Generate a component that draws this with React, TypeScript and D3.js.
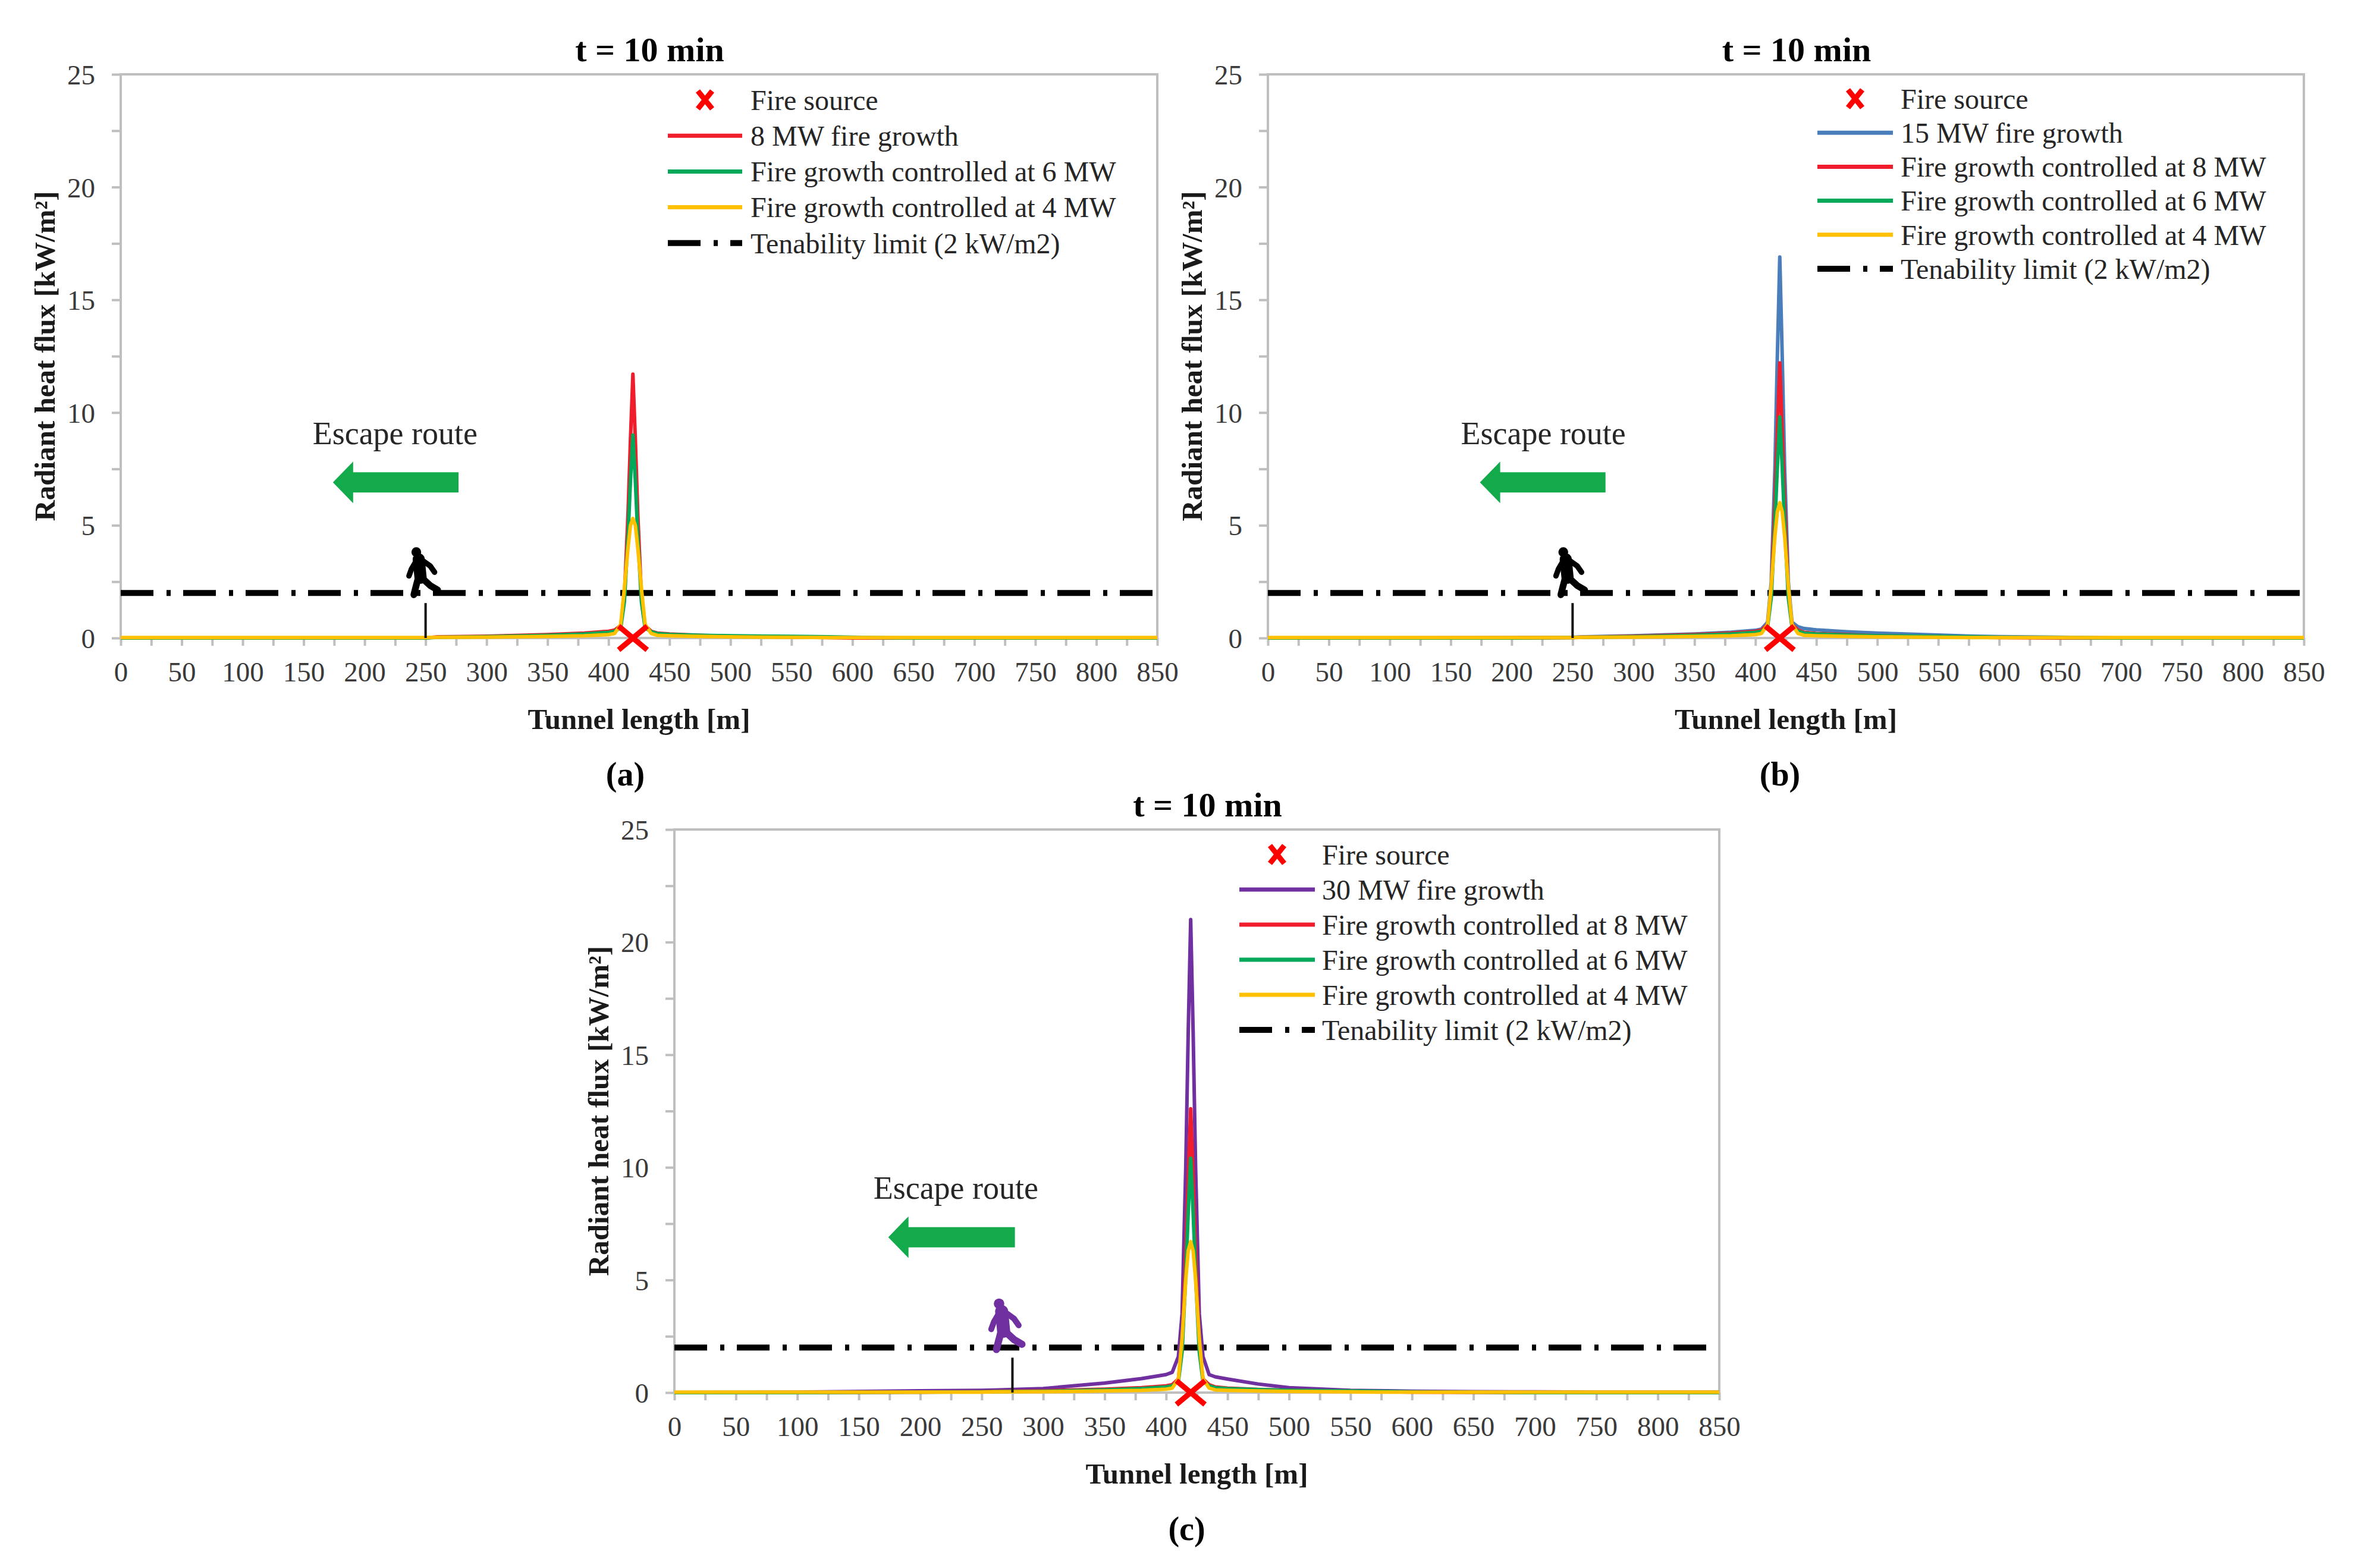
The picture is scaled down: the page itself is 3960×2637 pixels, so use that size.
import { useEffect, useRef } from "react";
import * as d3 from "d3";

// tunnel positions (m) where the heat flux was sampled, shared by every series
const tunnelX = [0, 100, 200, 250, 260, 300, 350, 380, 400, 405, 410, 413, 416, 418, 420, 422, 424, 427, 430, 435, 440, 450, 475, 500, 550, 580, 600, 650, 700, 750, 800, 850];

// (a) 8 MW design fire
const fire8A = [0, 0, 0, 0, 0.05, 0.08, 0.15, 0.22, 0.3, 0.35, 0.55, 1.8, 5.5, 8.8, 11.7, 8.8, 5.5, 1.8, 0.55, 0.3, 0.22, 0.18, 0.12, 0.08, 0.04, 0.02, 0, 0, 0, 0, 0, 0];
const ctrl6A = [0, 0, 0, 0, 0.03, 0.06, 0.12, 0.18, 0.25, 0.3, 0.45, 1.6, 4.5, 7, 9.0, 7, 4.5, 1.6, 0.45, 0.28, 0.2, 0.16, 0.12, 0.1, 0.07, 0.05, 0.03, 0, 0, 0, 0, 0];
const ctrl4A = [0.02, 0.02, 0.02, 0.02, 0.03, 0.04, 0.07, 0.1, 0.15, 0.2, 0.6, 2.2, 4.0, 5.0, 5.3, 5.0, 4.0, 2.2, 0.6, 0.2, 0.12, 0.1, 0.07, 0.05, 0.03, 0.02, 0.02, 0.02, 0.02, 0.02, 0.02, 0.02];

// (b) 15 MW design fire
const fire15B = [0, 0, 0.02, 0.03, 0.05, 0.1, 0.18, 0.26, 0.34, 0.4, 0.7, 2.5, 7.5, 12.5, 16.9, 12.5, 7.5, 2.5, 0.7, 0.5, 0.42, 0.36, 0.28, 0.22, 0.13, 0.08, 0.06, 0.03, 0, 0, 0, 0];
const ctrl8B = [0, 0, 0, 0.02, 0.04, 0.08, 0.15, 0.22, 0.3, 0.35, 0.6, 2.0, 6.0, 9.2, 12.2, 9.2, 6.0, 2.0, 0.6, 0.35, 0.25, 0.2, 0.15, 0.1, 0.06, 0.03, 0.02, 0, 0, 0, 0, 0];
const ctrl6B = [0, 0, 0, 0.02, 0.03, 0.06, 0.12, 0.18, 0.25, 0.3, 0.5, 1.8, 5.0, 7.6, 9.8, 7.6, 5.0, 1.8, 0.5, 0.3, 0.22, 0.18, 0.13, 0.1, 0.07, 0.05, 0.03, 0.02, 0, 0, 0, 0];
const ctrl4B = [0.02, 0.02, 0.02, 0.02, 0.03, 0.04, 0.07, 0.1, 0.15, 0.2, 0.6, 2.3, 4.5, 5.6, 6.0, 5.6, 4.5, 2.3, 0.6, 0.2, 0.12, 0.1, 0.07, 0.05, 0.03, 0.02, 0.02, 0.02, 0.02, 0.02, 0.02, 0.02];

// (c) 30 MW design fire
const fire30C = [0, 0.02, 0.08, 0.1, 0.11, 0.18, 0.42, 0.62, 0.8, 0.9, 1.6, 3.5, 10, 16, 21, 16, 10, 3.5, 1.6, 0.8, 0.7, 0.6, 0.38, 0.22, 0.1, 0.08, 0.06, 0.04, 0.03, 0.02, 0.02, 0.02];
const ctrl8C = [0, 0, 0.02, 0.04, 0.05, 0.08, 0.15, 0.22, 0.3, 0.35, 0.6, 2.0, 6.2, 9.5, 12.6, 9.5, 6.2, 2.0, 0.6, 0.35, 0.25, 0.2, 0.14, 0.1, 0.06, 0.03, 0.02, 0.01, 0, 0, 0, 0];
const ctrl6C = [0, 0, 0.02, 0.03, 0.04, 0.06, 0.12, 0.18, 0.25, 0.3, 0.5, 1.8, 5.2, 8.0, 10.4, 8.0, 5.2, 1.8, 0.5, 0.3, 0.22, 0.18, 0.13, 0.1, 0.07, 0.05, 0.03, 0.02, 0, 0, 0, 0];
const ctrl4C = [0.02, 0.02, 0.02, 0.02, 0.03, 0.04, 0.07, 0.1, 0.15, 0.2, 0.6, 2.4, 5.0, 6.3, 6.7, 6.3, 5.0, 2.4, 0.6, 0.2, 0.12, 0.1, 0.07, 0.05, 0.03, 0.02, 0.02, 0.02, 0.02, 0.02, 0.02, 0.02];

const xTicks = [0, 25, 50, 75, 100, 125, 150, 175, 200, 225, 250, 275, 300, 325, 350, 375, 400, 425, 450, 475, 500, 525, 550, 575, 600, 625, 650, 675, 700, 725, 750, 775, 800, 825, 850];
const xTickLabels = [0, 50, 100, 150, 200, 250, 300, 350, 400, 450, 500, 550, 600, 650, 700, 750, 800, 850];
const yTicks = [0, 2.5, 5, 7.5, 10, 12.5, 15, 17.5, 20, 22.5, 25];
const yTickLabels = [0, 5, 10, 15, 20, 25];

const tenabilityLimit = 2;
const fireSourceX = 420;
const escapeArrowX = [174, 277]; // tip, tail (m)
const escapeArrowY = 6.9;
const escapeLabelY = 8.6;

const RED = "#f01e2c";
const GREEN = "#00a859";
const YELLOW = "#ffc000";
const BLUE = "#4a7ebb";
const PURPLE = "#7030a0";
const AXIS = "#bfbfbf";
const SERIF = "'Liberation Serif', 'Times New Roman', serif";

interface Series {
	label: string;
	color: string;
	values: number[];
}

interface PanelSpec {
	tag: string;
	left: number;
	right: number;
	top: number;
	bottom: number;
	series: Series[];
	legend: { x0: number; x1: number; textX: number; y0: number; gap: number };
	escapeLabelX: number;
	occupantX: number;
	occupantColor: string;
	iconH: number;
	iconDx: number;
	tagDx: number;
}

const panels: PanelSpec[] = [
	{
		tag: "(a)",
		left: 203,
		right: 1946,
		top: 125,
		bottom: 1073,
		series: [
			{ label: "8 MW fire growth", color: RED, values: fire8A },
			{ label: "Fire growth controlled at 6 MW", color: GREEN, values: ctrl6A },
			{ label: "Fire growth controlled at 4 MW", color: YELLOW, values: ctrl4A },
		],
		legend: { x0: 1123, x1: 1248, textX: 1262, y0: 168, gap: 60.2 },
		escapeLabelX: 225,
		occupantX: 250,
		occupantColor: "#000000",
		iconH: 82,
		iconDx: -31,
		tagDx: -23,
	},
	{
		tag: "(b)",
		left: 2132,
		right: 3874,
		top: 125,
		bottom: 1073,
		series: [
			{ label: "15 MW fire growth", color: BLUE, values: fire15B },
			{ label: "Fire growth controlled at 8 MW", color: RED, values: ctrl8B },
			{ label: "Fire growth controlled at 6 MW", color: GREEN, values: ctrl6B },
			{ label: "Fire growth controlled at 4 MW", color: YELLOW, values: ctrl4B },
		],
		legend: { x0: 3056, x1: 3183, textX: 3196, y0: 166, gap: 57.2 },
		escapeLabelX: 226,
		occupantX: 250,
		occupantColor: "#000000",
		iconH: 82,
		iconDx: -31,
		tagDx: -10,
	},
	{
		tag: "(c)",
		left: 1134,
		right: 2891,
		top: 1395,
		bottom: 2342,
		series: [
			{ label: "30 MW fire growth", color: PURPLE, values: fire30C },
			{ label: "Fire growth controlled at 8 MW", color: RED, values: ctrl8C },
			{ label: "Fire growth controlled at 6 MW", color: GREEN, values: ctrl6C },
			{ label: "Fire growth controlled at 4 MW", color: YELLOW, values: ctrl4C },
		],
		legend: { x0: 2084, x1: 2211, textX: 2223, y0: 1437, gap: 59 },
		escapeLabelX: 229,
		occupantX: 275,
		occupantColor: PURPLE,
		iconH: 88,
		iconDx: -39,
		tagDx: -17,
	},
];

// walking pedestrian pictogram, drawn in an 80-unit tall box
const occupantLimbs: { pts: [number, number][]; w: number }[] = [
	{ pts: [[19, 19], [22, 49]], w: 20 },
	{ pts: [[14, 23], [7, 35], [3, 46]], w: 9 },
	{ pts: [[27, 22], [38, 30], [45, 40]], w: 9 },
	{ pts: [[18, 50], [14, 65], [11, 77]], w: 11 },
	{ pts: [[25, 50], [38, 62], [50, 69]], w: 11 },
];

type Sel = d3.Selection<SVGGElement, unknown, null, undefined>;

function drawPanel(root: Sel, p: PanelSpec) {
	const x = d3.scaleLinear().domain([0, 850]).range([p.left, p.right]);
	const y = d3.scaleLinear().domain([0, 25]).range([p.bottom, p.top]);
	const g = root.append("g");
	const cx = (p.left + p.right) / 2;

	// plot frame
	g.append("rect")
		.attr("x", p.left)
		.attr("y", p.top)
		.attr("width", p.right - p.left)
		.attr("height", p.bottom - p.top)
		.attr("fill", "none")
		.attr("stroke", AXIS)
		.attr("stroke-width", 4);

	const xAxis = d3
		.axisBottom(x)
		.tickValues(xTicks)
		.tickSize(13)
		.tickFormat((d) => (xTickLabels.includes(d as number) ? String(d) : ""));

	g.append("g")
		.attr("transform", `translate(0,${p.bottom})`)
		.call(xAxis)
		.call((s) => s.select(".domain").remove())
		.call((s) => s.selectAll(".tick line").attr("stroke", AXIS).attr("stroke-width", 4))
		.call((s) =>
			s
				.selectAll(".tick text")
				.attr("y", 57)
				.attr("dy", "0.35em")
				.attr("fill", "#3a3a3a")
				.attr("font-size", 47)
				.attr("font-family", SERIF)
		);

	const yAxis = d3
		.axisLeft(y)
		.tickValues(yTicks)
		.tickSize(15)
		.tickFormat((d) => (yTickLabels.includes(d as number) ? String(d) : ""));

	g.append("g")
		.attr("transform", `translate(${p.left},0)`)
		.call(yAxis)
		.call((s) => s.select(".domain").remove())
		.call((s) => s.selectAll(".tick line").attr("stroke", AXIS).attr("stroke-width", 4))
		.call((s) =>
			s
				.selectAll(".tick text")
				.attr("x", -43)
				.attr("dy", "0.35em")
				.attr("fill", "#3a3a3a")
				.attr("font-size", 47)
				.attr("font-family", SERIF)
		);

	// titles
	g.append("text")
		.attr("x", cx + 18)
		.attr("y", p.top - 22)
		.attr("text-anchor", "middle")
		.attr("font-family", SERIF)
		.attr("font-weight", "bold")
		.attr("font-size", 58)
		.text("t = 10 min");

	g.append("text")
		.attr("x", cx)
		.attr("y", p.bottom + 153)
		.attr("text-anchor", "middle")
		.attr("font-family", SERIF)
		.attr("font-weight", "bold")
		.attr("font-size", 49)
		.attr("fill", "#1a1a1a")
		.text("Tunnel length [m]");

	g.append("text")
		.attr("transform", `translate(${p.left - 128},${(p.top + p.bottom) / 2}) rotate(-90)`)
		.attr("text-anchor", "middle")
		.attr("dy", "0.35em")
		.attr("font-family", SERIF)
		.attr("font-weight", "bold")
		.attr("font-size", 49)
		.attr("fill", "#1a1a1a")
		.text("Radiant heat flux [kW/m²]");

	g.append("text")
		.attr("x", cx + p.tagDx)
		.attr("y", p.bottom + 248)
		.attr("text-anchor", "middle")
		.attr("font-family", SERIF)
		.attr("font-weight", "bold")
		.attr("font-size", 56)
		.text(p.tag);

	// tenability limit
	g.append("line")
		.attr("x1", p.left)
		.attr("x2", p.right)
		.attr("y1", y(tenabilityLimit))
		.attr("y2", y(tenabilityLimit))
		.attr("stroke", "#000")
		.attr("stroke-width", 10)
		.attr("stroke-dasharray", "55 22 7 21");

	// escape route annotation
	g.append("text")
		.attr("x", x(p.escapeLabelX))
		.attr("y", y(escapeLabelY))
		.attr("text-anchor", "middle")
		.attr("font-family", SERIF)
		.attr("font-size", 54)
		.attr("fill", "#262626")
		.text("Escape route");

	const tipX = x(escapeArrowX[0]);
	const tailX = x(escapeArrowX[1]);
	const ay = y(escapeArrowY);
	g.append("path")
		.attr(
			"d",
			`M${tipX},${ay} L${tipX + 34},${ay - 35} L${tipX + 34},${ay - 17} L${tailX},${ay - 17} L${tailX},${ay + 17} L${tipX + 34},${ay + 17} L${tipX + 34},${ay + 35} Z`
		)
		.attr("fill", "#12aa4a");

	// series
	const line = d3
		.line<number>()
		.x((_, i) => x(tunnelX[i]))
		.y((d) => y(d));

	for (const s of p.series) {
		g.append("path")
			.datum(s.values)
			.attr("fill", "none")
			.attr("stroke", s.color)
			.attr("stroke-width", 6)
			.attr("stroke-linejoin", "round")
			.attr("d", line);
	}

	// occupant location
	const ox = x(p.occupantX);
	g.append("line")
		.attr("x1", ox)
		.attr("x2", ox)
		.attr("y1", y(0))
		.attr("y2", y(1.55))
		.attr("stroke", "#111")
		.attr("stroke-width", 4);

	const k = p.iconH / 80;
	const icon = g
		.append("g")
		.attr("transform", `translate(${ox + p.iconDx},${y(tenabilityLimit) - p.iconH + 6 * k}) scale(${k})`)
		.attr("fill", p.occupantColor)
		.attr("stroke", p.occupantColor);
	icon.append("circle").attr("cx", 15).attr("cy", 7).attr("r", 8).attr("stroke", "none");
	const limb = d3.line<[number, number]>();
	for (const l of occupantLimbs) {
		icon.append("path")
			.attr("d", limb(l.pts))
			.attr("fill", "none")
			.attr("stroke-width", l.w)
			.attr("stroke-linecap", "round")
			.attr("stroke-linejoin", "round");
	}

	// fire source marker
	const fx = x(fireSourceX);
	const fy = y(0);
	g.append("path")
		.attr("d", `M${fx - 24},${fy - 20} L${fx + 24},${fy + 20} M${fx + 24},${fy - 20} L${fx - 24},${fy + 20}`)
		.attr("stroke", "#ff0000")
		.attr("stroke-width", 9);

	// legend
	const lg = p.legend;
	const rows = 2 + p.series.length;
	const legendText = (i: number, label: string) =>
		g
			.append("text")
			.attr("x", lg.textX)
			.attr("y", lg.y0 + i * lg.gap)
			.attr("dy", "0.35em")
			.attr("font-family", SERIF)
			.attr("font-size", 48)
			.attr("fill", "#262626")
			.text(label);

	const mx = (lg.x0 + lg.x1) / 2;
	g.append("path")
		.attr("d", `M${mx - 12},${lg.y0 - 15} L${mx + 12},${lg.y0 + 15} M${mx + 12},${lg.y0 - 15} L${mx - 12},${lg.y0 + 15}`)
		.attr("stroke", "#ff0000")
		.attr("stroke-width", 9);
	legendText(0, "Fire source");

	p.series.forEach((s, i) => {
		const ly = lg.y0 + (i + 1) * lg.gap;
		g.append("line")
			.attr("x1", lg.x0)
			.attr("x2", lg.x1)
			.attr("y1", ly)
			.attr("y2", ly)
			.attr("stroke", s.color)
			.attr("stroke-width", 7);
		legendText(i + 1, s.label);
	});

	const ty = lg.y0 + (rows - 1) * lg.gap;
	g.append("line")
		.attr("x1", lg.x0)
		.attr("x2", lg.x1)
		.attr("y1", ty)
		.attr("y2", ty)
		.attr("stroke", "#000")
		.attr("stroke-width", 10)
		.attr("stroke-dasharray", "55 22 7 21");
	legendText(rows - 1, "Tenability limit (2 kW/m2)");
}

export default function App() {
	const svgRef = useRef<SVGSVGElement>(null);

	useEffect(() => {
		document.body.style.margin = "0";
		if (!svgRef.current) return;
		const svg = d3.select(svgRef.current);
		svg.selectAll("*").remove();
		const root = svg.append("g") as unknown as Sel;
		for (const p of panels) drawPanel(root, p);
	}, []);

	return (
		<svg
			ref={svgRef}
			width={3960}
			height={2637}
			style={{ display: "block", background: "#ffffff" }}
		/>
	);
}
